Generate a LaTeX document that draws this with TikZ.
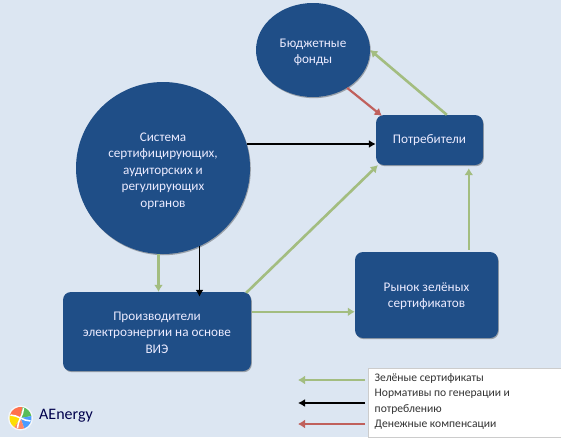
\documentclass[tikz,border=0pt]{standalone}
\usepackage{fontspec}
\setmainfont{Carlito}
\usetikzlibrary{shapes.geometric,shadows,calc,arrows.meta}
\definecolor{bgc}{HTML}{DCE6F2}
\definecolor{nodec}{HTML}{1F4E87}
\definecolor{greenc}{HTML}{A3BD80}
\definecolor{redc}{HTML}{C0605C}
\tikzset{
  x=1pt,y=-1pt,
  body/.style={fill=nodec,text=white!92!blue,align=center,font=\fontsize{13.2}{16.5}\selectfont,inner sep=0pt,
    drop shadow={shadow xshift=0.8pt,shadow yshift=-1.2pt,fill=black,opacity=.3}},
  oval/.style={body,ellipse},
  box/.style={body,rectangle,rounded corners=8pt},
  greenarrow/.style={draw=greenc,color=greenc,line width=2.6pt,-{Latex[length=7pt,width=9pt]}},
  blackarrow/.style={draw=black,line width=1.9pt,-{Latex[length=7pt,width=8pt]}},
  redarrow/.style={draw=redc,color=redc,line width=2.2pt,-{Latex[length=7pt,width=9pt]}},
  legendtext/.style={anchor=west,font=\fontsize{11.6}{13}\selectfont,text=black!80,inner sep=0pt},
}
\begin{document}
\begin{tikzpicture}
\useasboundingbox (0,0) rectangle (561,437);
\fill[bgc] (0,0) rectangle (561,437);

\node[oval,minimum width=174pt,minimum height=172pt] (sys) at (163,168) {\rule{0pt}{15pt}Система\\сертифицирующих,\\аудиторских и\\регулирующих\\органов};
\node[oval,minimum width=114pt,minimum height=94pt] (fund) at (313,50) {\rule{0pt}{13pt}Бюджетные\\фонды};
\node[box,minimum width=107pt,minimum height=50pt] (cons) at (429.5,140) {Потребители};
\node[box,minimum width=143pt,minimum height=86pt] (mkt) at (426.5,295) {\rule{0pt}{11pt}Рынок зелёных\\сертификатов};
\node[box,minimum width=188pt,minimum height=79pt] (prod) at (157,331.5) {\rule{0pt}{11pt}Производители\\электроэнергии на основе\\ВИЭ};

\draw[blackarrow] (sys.16) -- (sys.16 -| cons.west);
\draw[greenarrow] (sys.-93) -- (sys.-93 |- prod.north);
\draw[blackarrow] (sys.-65) -- ($(sys.-65 |- prod.north)+(0,5)$);
\draw[greenarrow] ($(prod.north east)+(-5,1)$) -- ($(cons.south west)+(2,0)$);
\draw[greenarrow] ($(prod.north east)+(1,20)$) coordinate (p2) -- (p2 -| mkt.west);
\draw[greenarrow] ($(mkt.north west)+(114,-2)$) -- ($(cons.south west)+(93,3)$);
\draw[greenarrow] ($(cons.north west)+(71,0)$) -- (fund.east);
\draw[redarrow] (fund.-48) -- ($(cons.north west)+(6,1)$);

\node[draw=black!20,fill=white,minimum width=193pt,minimum height=69pt,inner sep=0pt] (leg) at (464.5,402.5) {};
\node[legendtext] (t1) at (374.5,378.5) {Зелёные сертификаты};
\node[legendtext] (t2) at (374.5,394) {Нормативы по генерации и};
\node[legendtext] (t3) at (374.5,409) {потреблению};
\node[legendtext] (t4) at (374.5,425) {Денежные компенсации};
\coordinate (lgs) at (298,380);
\draw[greenarrow] (365,380) coordinate (a1) -- (a1 -| lgs);
\draw[blackarrow] (365,403) coordinate (a2) -- (a2 -| lgs);
\draw[redarrow] (365,424) coordinate (a3) -- (a3 -| lgs);

% logo
\begin{scope}[shift={(20.5,418)},y=1pt]
\fill[white!70!bgc] (0,0) circle (12.5);
\fill[red!60!orange!70] (0,0) -- (165:11) arc[start angle=165,end angle=80,radius=11] -- cycle;
\fill[green!60!black!65] (0,0) -- (80:11) arc[start angle=80,end angle=10,radius=11] -- cycle;
\fill[blue!55!cyan!70] (0,0) -- (10:11) arc[start angle=10,end angle=-70,radius=11] -- cycle;
\fill[red!55!orange!60] (0,0) -- (-70:11) arc[start angle=-70,end angle=-125,radius=11] -- cycle;
\fill[yellow!80!orange] (0,0) -- (-125:11) arc[start angle=-125,end angle=-195,radius=11] -- cycle;
\draw[white,line width=1.5pt] (-10,3) .. controls (-3,3) and (3,-3) .. (10,-3);
\draw[white,line width=1.5pt] (-3,-10) .. controls (-3,-3) and (3,3) .. (3,10);
\end{scope}
\node[anchor=west,font=\fontsize{16}{18}\selectfont,text=black!70!blue,inner sep=0pt] (logo) at (39,416) {AEnergy};
\end{tikzpicture}
\end{document}
